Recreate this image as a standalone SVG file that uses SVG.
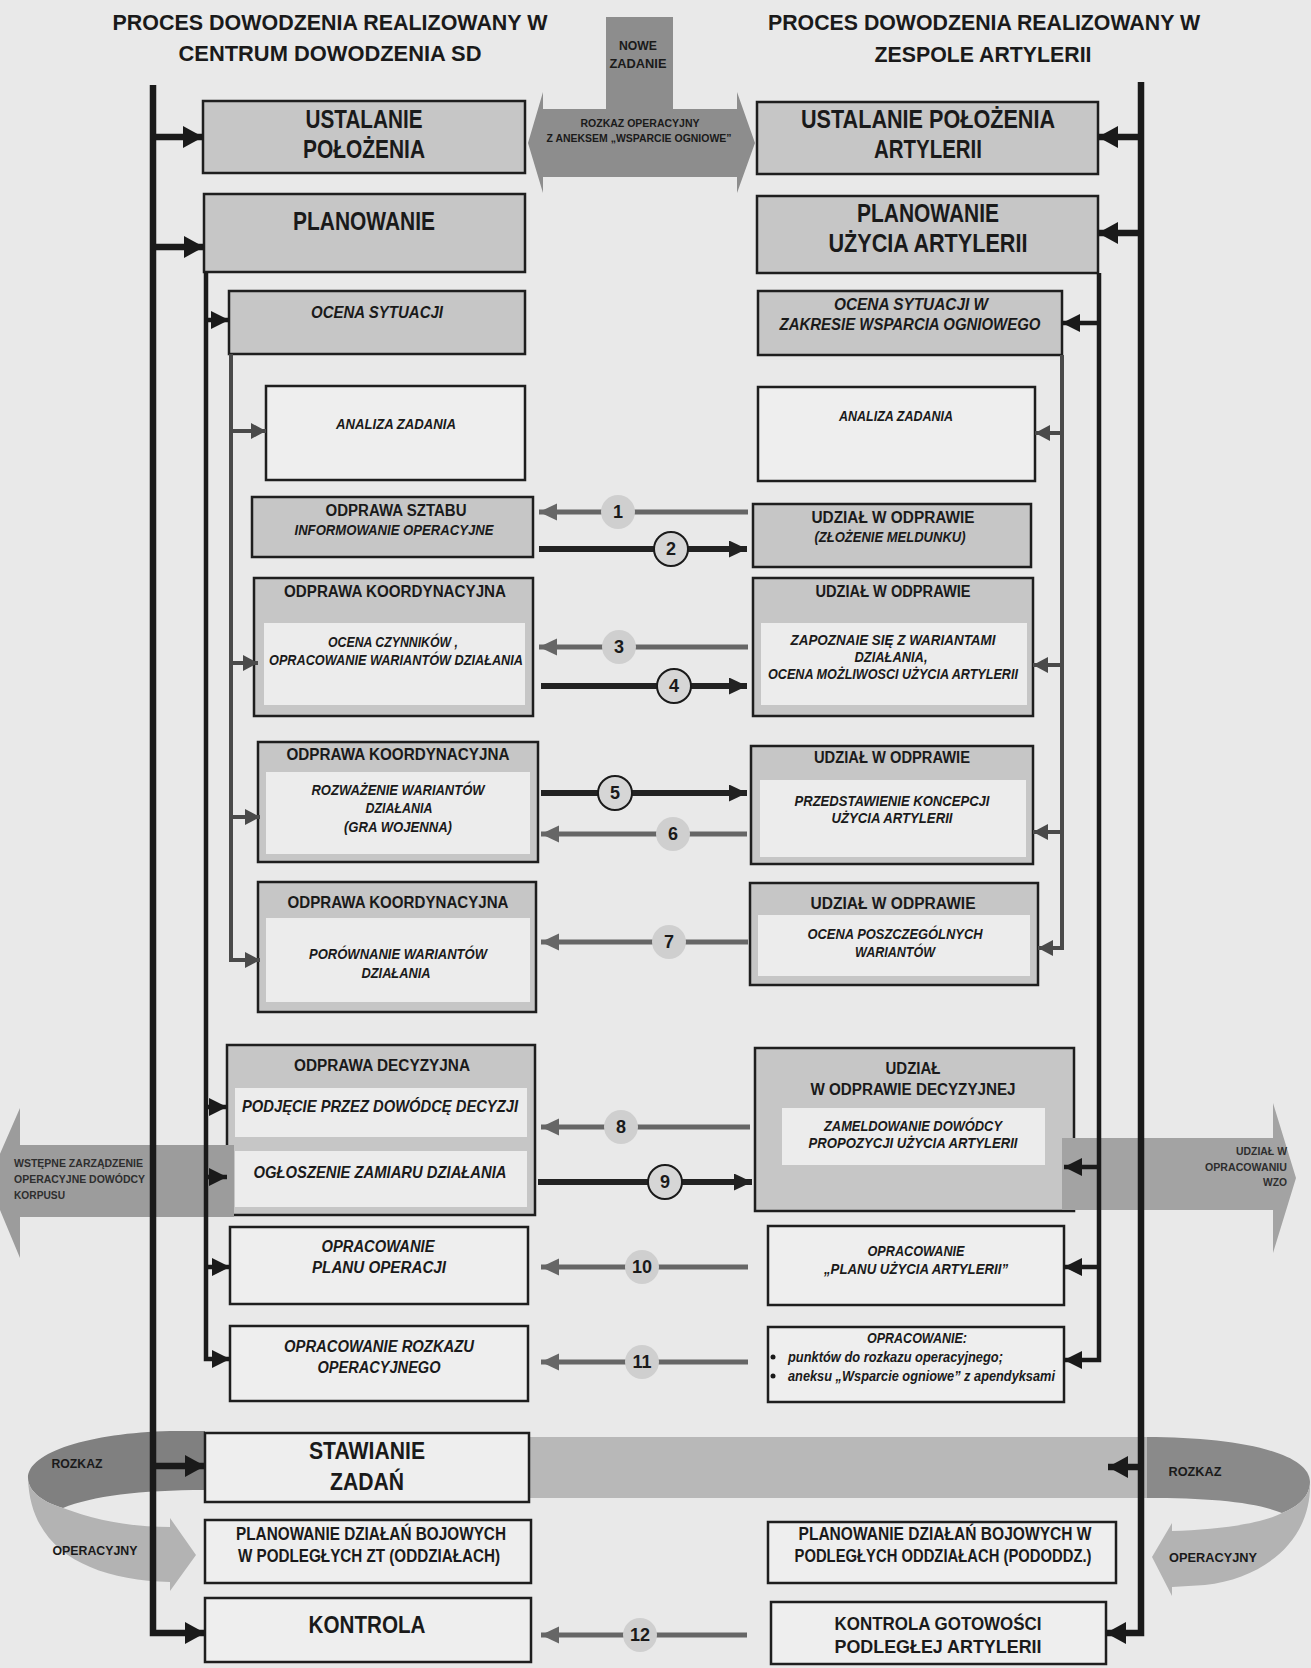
<svg xmlns="http://www.w3.org/2000/svg" width="1311" height="1668" viewBox="0 0 1311 1668">
<defs>
<style>
.t{font-family:"Liberation Sans",Arial,sans-serif;font-weight:bold;fill:#1a1a1a;text-anchor:middle}
.i{font-style:italic}
.s{font-family:"Liberation Sans",Arial,sans-serif;font-weight:bold;fill:#2e2e2e}
.box{stroke:#1e1e1e;stroke-width:2.5}
.g{fill:#c6c6c6}
.w{fill:#eeeeee}
.in{fill:#ececec}
.ln{fill:none;stroke:#1a1a1a;stroke-width:6.5}
.ln2{fill:none;stroke:#1a1a1a;stroke-width:4.5}
.ln3{fill:none;stroke:#4a4a4a;stroke-width:4}
.nl{fill:none;stroke:#666;stroke-width:5}
.nr{fill:none;stroke:#222;stroke-width:6}
.cg{fill:#cfcfcf}
.cb{fill:#d6d6d6;stroke:#1a1a1a;stroke-width:2}
.num{font-family:"Liberation Sans",Arial,sans-serif;font-weight:bold;font-size:18px;fill:#1a1a1a;text-anchor:middle}
</style>
<marker id="mA" markerUnits="userSpaceOnUse" markerWidth="22" markerHeight="24" refX="20" refY="11" orient="auto"><path d="M0,0 L20,11 L0,22 Z" fill="#1a1a1a"/></marker>
<marker id="mB" markerUnits="userSpaceOnUse" markerWidth="20" markerHeight="20" refX="18" refY="9" orient="auto"><path d="M0,0 L18,9 L0,18 Z" fill="#1a1a1a"/></marker>
<marker id="mC" markerUnits="userSpaceOnUse" markerWidth="18" markerHeight="18" refX="15" refY="8" orient="auto"><path d="M0,0 L15,8 L0,16 Z" fill="#4a4a4a"/></marker>
<marker id="mD" markerUnits="userSpaceOnUse" markerWidth="20" markerHeight="20" refX="18" refY="8.5" orient="auto"><path d="M0,0 L18,8.5 L0,17 Z" fill="#666"/></marker>
<marker id="mE" markerUnits="userSpaceOnUse" markerWidth="20" markerHeight="20" refX="18" refY="8.5" orient="auto"><path d="M0,0 L18,8.5 L0,17 Z" fill="#222"/></marker>
</defs>
<rect x="0" y="0" width="1311" height="1668" fill="#e9e9e9"/>

<g id="titles">
<text class="t" x="330" y="30" font-size="22" textLength="435" lengthAdjust="spacingAndGlyphs">PROCES DOWODZENIA REALIZOWANY W</text>
<text class="t" x="330" y="61" font-size="22" textLength="303" lengthAdjust="spacingAndGlyphs">CENTRUM DOWODZENIA SD</text>
<text class="t" x="984" y="30" font-size="22" textLength="432" lengthAdjust="spacingAndGlyphs">PROCES DOWODZENIA REALIZOWANY W</text>
<text class="t" x="983" y="62" font-size="22" textLength="217" lengthAdjust="spacingAndGlyphs">ZESPOLE ARTYLERII</text>
</g>

<g id="bands">
<path d="M606,17 H673 V109 H737 V92 L755,143 L737,193 V177 H543 V193 L528,143 L543,92 V109 H606 Z" fill="#8d8d8d"/>
<text class="t" x="638" y="50" font-size="12" fill="#2a2a2a" textLength="38" lengthAdjust="spacingAndGlyphs">NOWE</text>
<text class="t" x="638" y="68" font-size="12" fill="#2a2a2a" textLength="57" lengthAdjust="spacingAndGlyphs">ZADANIE</text>
<text class="t" x="640" y="127" font-size="10" fill="#2a2a2a" textLength="119" lengthAdjust="spacingAndGlyphs">ROZKAZ OPERACYJNY</text>
<text class="t" x="639" y="142" font-size="10" fill="#2a2a2a" textLength="185" lengthAdjust="spacingAndGlyphs">Z ANEKSEM „WSPARCIE OGNIOWE”</text>
<rect x="529" y="1437" width="618" height="61" fill="#b8b8b8"/>
<path d="M1147,1437 C1235,1437 1310,1452 1310,1482 C1310,1496 1298,1507 1282,1513 C1255,1502 1210,1498 1147,1498 Z" fill="#8a8a8a"/>
<path d="M1282,1513 C1298,1507 1310,1496 1310,1482 C1312,1540 1265,1578 1205,1585 L1172,1587 V1596 L1152,1557 L1172,1523 V1531 C1215,1530 1262,1524 1282,1513 Z" fill="#b3b3b3"/>
<path d="M205,1431 V1490 C140,1490 92,1496 63,1508 C45,1503 28,1492 28,1478 C28,1452 90,1433 170,1431 Z" fill="#808080"/>
<path d="M28,1478 C28,1492 45,1503 63,1508 C95,1520 130,1527 170,1527 V1518 L196,1555 L170,1591 V1582 C90,1580 30,1550 28,1478 Z" fill="#b3b3b3"/>
<text class="t" x="77" y="1468" font-size="13" textLength="51" lengthAdjust="spacingAndGlyphs">ROZKAZ</text>
<text class="t" x="95" y="1555" font-size="13" textLength="85" lengthAdjust="spacingAndGlyphs">OPERACYJNY</text>
<text class="t" x="1195" y="1476" font-size="13" textLength="53" lengthAdjust="spacingAndGlyphs">ROZKAZ</text>
<text class="t" x="1213" y="1562" font-size="13" textLength="88" lengthAdjust="spacingAndGlyphs">OPERACYJNY</text>
</g>

<g id="n-ustalanie-l"><rect class="box g" x="203" y="101" width="322" height="72"/>
<text class="t" x="364" y="128" font-size="25" textLength="117" lengthAdjust="spacingAndGlyphs">USTALANIE</text>
<text class="t" x="364" y="158" font-size="25" textLength="122" lengthAdjust="spacingAndGlyphs">POŁOŻENIA</text></g>
<g id="n-ustalanie-r"><rect class="box g" x="757" y="102" width="341" height="72"/>
<text class="t" x="928" y="128" font-size="25" textLength="254" lengthAdjust="spacingAndGlyphs">USTALANIE POŁOŻENIA</text>
<text class="t" x="928" y="158" font-size="25" textLength="108" lengthAdjust="spacingAndGlyphs">ARTYLERII</text></g>
<g id="n-planowanie-l"><rect class="box g" x="204" y="194" width="321" height="78"/>
<text class="t" x="364" y="230" font-size="25" textLength="142" lengthAdjust="spacingAndGlyphs">PLANOWANIE</text></g>
<g id="n-planowanie-r"><rect class="box g" x="757" y="196" width="341" height="77"/>
<text class="t" x="928" y="222" font-size="25" textLength="142" lengthAdjust="spacingAndGlyphs">PLANOWANIE</text>
<text class="t" x="928" y="252" font-size="25" textLength="199" lengthAdjust="spacingAndGlyphs">UŻYCIA ARTYLERII</text></g>

<g id="n-ocena-l"><rect class="box g" x="229" y="291" width="296" height="63"/>
<text class="t i" x="377" y="318" font-size="16" textLength="132" lengthAdjust="spacingAndGlyphs">OCENA SYTUACJI</text></g>
<g id="n-ocena-r"><rect class="box g" x="758" y="291" width="304" height="64"/>
<text class="t i" x="911" y="310" font-size="16" textLength="154" lengthAdjust="spacingAndGlyphs">OCENA SYTUACJI W</text>
<text class="t i" x="910" y="330" font-size="16" textLength="261" lengthAdjust="spacingAndGlyphs">ZAKRESIE WSPARCIA OGNIOWEGO</text></g>

<g id="n-analiza-l"><rect class="box w" x="266" y="386" width="259" height="94"/>
<text class="t i" x="396" y="429" font-size="14" textLength="120" lengthAdjust="spacingAndGlyphs">ANALIZA ZADANIA</text></g>
<g id="n-analiza-r"><rect class="box w" x="758" y="387" width="277" height="94"/>
<text class="t i" x="896" y="421" font-size="14" textLength="114" lengthAdjust="spacingAndGlyphs">ANALIZA ZADANIA</text></g>

<g id="n-odprawa-sztabu"><rect class="box g" x="252" y="497" width="281" height="60"/>
<text class="t" x="396" y="516" font-size="16" textLength="141" lengthAdjust="spacingAndGlyphs">ODPRAWA SZTABU</text>
<text class="t i" x="394" y="535" font-size="14" textLength="199" lengthAdjust="spacingAndGlyphs">INFORMOWANIE OPERACYJNE</text></g>
<g id="n-udzial-1"><rect class="box g" x="753" y="504" width="278" height="63"/>
<text class="t" x="893" y="523" font-size="16" textLength="163" lengthAdjust="spacingAndGlyphs">UDZIAŁ W ODPRAWIE</text>
<text class="t i" x="890" y="542" font-size="14" textLength="151" lengthAdjust="spacingAndGlyphs">(ZŁOŻENIE MELDUNKU)</text></g>

<g id="n-koord-1"><rect class="box g" x="254" y="578" width="279" height="138"/>
<rect class="in" x="264" y="623" width="261" height="82"/>
<text class="t" x="395" y="597" font-size="16.5" textLength="222" lengthAdjust="spacingAndGlyphs">ODPRAWA KOORDYNACYJNA</text>
<text class="t i" x="393" y="647" font-size="14" textLength="130" lengthAdjust="spacingAndGlyphs">OCENA CZYNNIKÓW ,</text>
<text class="t i" x="396" y="665" font-size="14" textLength="254" lengthAdjust="spacingAndGlyphs">OPRACOWANIE WARIANTÓW DZIAŁANIA</text></g>
<g id="n-udzial-2"><rect class="box g" x="753" y="578" width="280" height="138"/>
<rect class="in" x="761" y="623" width="266" height="82"/>
<text class="t" x="893" y="597" font-size="16" textLength="155" lengthAdjust="spacingAndGlyphs">UDZIAŁ W ODPRAWIE</text>
<text class="t i" x="893" y="645" font-size="14" textLength="205" lengthAdjust="spacingAndGlyphs">ZAPOZNAIE SIĘ Z WARIANTAMI</text>
<text class="t i" x="891" y="662" font-size="14" textLength="73" lengthAdjust="spacingAndGlyphs">DZIAŁANIA,</text>
<text class="t i" x="893" y="679" font-size="14" textLength="250" lengthAdjust="spacingAndGlyphs">OCENA MOŻLIWOSCI UŻYCIA ARTYLERII</text></g>

<g id="n-koord-2"><rect class="box g" x="258" y="742" width="280" height="120"/>
<rect class="in" x="266" y="772" width="264" height="82"/>
<text class="t" x="398" y="760" font-size="16.5" textLength="223" lengthAdjust="spacingAndGlyphs">ODPRAWA KOORDYNACYJNA</text>
<text class="t i" x="398" y="795" font-size="14" textLength="173" lengthAdjust="spacingAndGlyphs">ROZWAŻENIE WARIANTÓW</text>
<text class="t i" x="399" y="813" font-size="14" textLength="67" lengthAdjust="spacingAndGlyphs">DZIAŁANIA</text>
<text class="t i" x="398" y="832" font-size="14" textLength="108" lengthAdjust="spacingAndGlyphs">(GRA WOJENNA)</text></g>
<g id="n-udzial-3"><rect class="box g" x="751" y="746" width="282" height="118"/>
<rect class="in" x="760" y="780" width="266" height="77"/>
<text class="t" x="892" y="763" font-size="16" textLength="156" lengthAdjust="spacingAndGlyphs">UDZIAŁ W ODPRAWIE</text>
<text class="t i" x="892" y="806" font-size="14" textLength="195" lengthAdjust="spacingAndGlyphs">PRZEDSTAWIENIE KONCEPCJI</text>
<text class="t i" x="892" y="823" font-size="14" textLength="121" lengthAdjust="spacingAndGlyphs">UŻYCIA ARTYLERII</text></g>

<g id="n-koord-3"><rect class="box g" x="258" y="882" width="278" height="130"/>
<rect class="in" x="266" y="918" width="264" height="84"/>
<text class="t" x="398" y="908" font-size="16.5" textLength="221" lengthAdjust="spacingAndGlyphs">ODPRAWA KOORDYNACYJNA</text>
<text class="t i" x="398" y="959" font-size="14" textLength="178" lengthAdjust="spacingAndGlyphs">PORÓWNANIE WARIANTÓW</text>
<text class="t i" x="396" y="978" font-size="14" textLength="69" lengthAdjust="spacingAndGlyphs">DZIAŁANIA</text></g>
<g id="n-udzial-4"><rect class="box g" x="750" y="883" width="288" height="102"/>
<rect class="in" x="758" y="915" width="272" height="61"/>
<text class="t" x="893" y="909" font-size="16" textLength="165" lengthAdjust="spacingAndGlyphs">UDZIAŁ W ODPRAWIE</text>
<text class="t i" x="895" y="939" font-size="14" textLength="175" lengthAdjust="spacingAndGlyphs">OCENA POSZCZEGÓLNYCH</text>
<text class="t i" x="895" y="957" font-size="14" textLength="80" lengthAdjust="spacingAndGlyphs">WARIANTÓW</text></g>

<g id="n-decyzyjna"><rect class="box g" x="227" y="1045" width="308" height="170"/>
<rect class="in" x="235" y="1088" width="292" height="49"/>
<rect class="in" x="235" y="1151" width="292" height="56"/>
<text class="t" x="382" y="1071" font-size="16" textLength="176" lengthAdjust="spacingAndGlyphs">ODPRAWA DECYZYJNA</text>
<text class="t i" x="380" y="1112" font-size="16.5" textLength="276" lengthAdjust="spacingAndGlyphs">PODJĘCIE PRZEZ DOWÓDCĘ DECYZJI</text>
<text class="t i" x="380" y="1178" font-size="16.5" textLength="253" lengthAdjust="spacingAndGlyphs">OGŁOSZENIE ZAMIARU DZIAŁANIA</text></g>
<g id="n-udzial-decyzyjna"><rect class="box g" x="755" y="1048" width="319" height="163"/>
<rect class="in" x="782" y="1108" width="263" height="57"/>
<text class="t" x="913" y="1074" font-size="16" textLength="55" lengthAdjust="spacingAndGlyphs">UDZIAŁ</text>
<text class="t" x="913" y="1095" font-size="16" textLength="205" lengthAdjust="spacingAndGlyphs">W ODPRAWIE DECYZYJNEJ</text>
<text class="t i" x="913" y="1131" font-size="14" textLength="178" lengthAdjust="spacingAndGlyphs">ZAMELDOWANIE DOWÓDCY</text>
<text class="t i" x="913" y="1148" font-size="14" textLength="209" lengthAdjust="spacingAndGlyphs">PROPOZYCJI UŻYCIA ARTYLERII</text></g>

<g id="n-plan-operacji"><rect class="box w" x="230" y="1227" width="298" height="77"/>
<text class="t i" x="378" y="1252" font-size="16" textLength="113" lengthAdjust="spacingAndGlyphs">OPRACOWANIE</text>
<text class="t i" x="379" y="1273" font-size="16" textLength="134" lengthAdjust="spacingAndGlyphs">PLANU OPERACJI</text></g>
<g id="n-plan-artylerii"><rect class="box w" x="768" y="1226" width="296" height="79"/>
<text class="t i" x="916" y="1256" font-size="14" textLength="97" lengthAdjust="spacingAndGlyphs">OPRACOWANIE</text>
<text class="t i" x="916" y="1274" font-size="14" textLength="184" lengthAdjust="spacingAndGlyphs">„PLANU UŻYCIA ARTYLERII”</text></g>

<g id="n-rozkaz"><rect class="box w" x="230" y="1326" width="298" height="75"/>
<text class="t i" x="379" y="1352" font-size="16" textLength="190" lengthAdjust="spacingAndGlyphs">OPRACOWANIE ROZKAZU</text>
<text class="t i" x="379" y="1373" font-size="16" textLength="123" lengthAdjust="spacingAndGlyphs">OPERACYJNEGO</text></g>
<g id="n-opracowanie-punktow"><rect class="box w" x="768" y="1327" width="296" height="75"/>
<text class="t i" x="917" y="1343" font-size="14" textLength="100" lengthAdjust="spacingAndGlyphs">OPRACOWANIE:</text>
<circle cx="773" cy="1357" r="2.5" fill="#1a1a1a"/>
<circle cx="773" cy="1376" r="2.5" fill="#1a1a1a"/>
<text class="t i" x="788" y="1362" font-size="14" text-anchor="start" style="text-anchor:start" textLength="215" lengthAdjust="spacingAndGlyphs">punktów do rozkazu operacyjnego;</text>
<text class="t i" x="788" y="1381" font-size="14" style="text-anchor:start" textLength="267" lengthAdjust="spacingAndGlyphs">aneksu „Wsparcie ogniowe” z apendyksami</text></g>

<g id="n-stawianie"><rect class="box w" x="205" y="1433" width="324" height="69"/>
<text class="t" x="367" y="1459" font-size="24" textLength="116" lengthAdjust="spacingAndGlyphs">STAWIANIE</text>
<text class="t" x="367" y="1490" font-size="24" textLength="74" lengthAdjust="spacingAndGlyphs">ZADAŃ</text></g>
<g id="n-planowanie-dzialan-l"><rect class="box w" x="205" y="1520" width="326" height="63"/>
<text class="t" x="371" y="1540" font-size="18" textLength="270" lengthAdjust="spacingAndGlyphs">PLANOWANIE DZIAŁAŃ BOJOWYCH</text>
<text class="t" x="369" y="1562" font-size="18" textLength="262" lengthAdjust="spacingAndGlyphs">W PODLEGŁYCH ZT (ODDZIAŁACH)</text></g>
<g id="n-planowanie-dzialan-r"><rect class="box w" x="768" y="1522" width="348" height="61"/>
<text class="t" x="945" y="1540" font-size="18" textLength="293" lengthAdjust="spacingAndGlyphs">PLANOWANIE DZIAŁAŃ BOJOWYCH W</text>
<text class="t" x="943" y="1562" font-size="18" textLength="297" lengthAdjust="spacingAndGlyphs">PODLEGŁYCH ODDZIAŁACH (PODODDZ.)</text></g>
<g id="n-kontrola-l"><rect class="box w" x="205" y="1598" width="326" height="64"/>
<text class="t" x="367" y="1633" font-size="24" textLength="117" lengthAdjust="spacingAndGlyphs">KONTROLA</text></g>
<g id="n-kontrola-r"><rect class="box w" x="771" y="1602" width="335" height="62"/>
<text class="t" x="938" y="1630" font-size="19" textLength="207" lengthAdjust="spacingAndGlyphs">KONTROLA GOTOWOŚCI</text>
<text class="t" x="938" y="1653" font-size="19" textLength="207" lengthAdjust="spacingAndGlyphs">PODLEGŁEJ ARTYLERII</text></g>

<g id="side-bands">
<path d="M-12,1181 L20,1108 V1145 H234 V1217 H20 V1258 Z" fill="#9c9c9c"/>
<path d="M1062,1138 H1273 V1103 L1296,1178 L1273,1253 V1210 H1062 Z" fill="#a3a3a3"/>
<text class="s" x="14" y="1167" font-size="10.5" textLength="129" lengthAdjust="spacingAndGlyphs">WSTĘPNE ZARZĄDZENIE</text>
<text class="s" x="14" y="1183" font-size="10.5" textLength="131" lengthAdjust="spacingAndGlyphs">OPERACYJNE DOWÓDCY</text>
<text class="s" x="14" y="1199" font-size="10.5" textLength="51" lengthAdjust="spacingAndGlyphs">KORPUSU</text>
<text class="s" x="1287" y="1155" font-size="10.5" text-anchor="end" textLength="51" lengthAdjust="spacingAndGlyphs">UDZIAŁ W</text>
<text class="s" x="1287" y="1171" font-size="10.5" text-anchor="end" textLength="82" lengthAdjust="spacingAndGlyphs">OPRACOWANIU</text>
<text class="s" x="1287" y="1186" font-size="10.5" text-anchor="end" textLength="24" lengthAdjust="spacingAndGlyphs">WZO</text>
</g>

<g id="connectors">
<path class="ln" d="M153,85 V1633 H205" marker-end="url(#mA)"/>
<path class="ln" d="M153,137 H203" marker-end="url(#mA)"/>
<path class="ln" d="M153,247 H204" marker-end="url(#mA)"/>
<path class="ln" d="M153,1466 H205" marker-end="url(#mA)"/>
<path class="ln" d="M1141,82 V1633 H1106" marker-end="url(#mA)"/>
<path class="ln" d="M1141,137 H1098" marker-end="url(#mA)"/>
<path class="ln" d="M1141,233 H1098" marker-end="url(#mA)"/>
<path class="ln" d="M1141,1467 H1108" marker-end="url(#mA)"/>

<path class="ln2" d="M206,272 V1359 H230" marker-end="url(#mB)"/>
<path class="ln2" d="M206,320 H229" marker-end="url(#mB)"/>
<path class="ln2" d="M206,1107 H227" marker-end="url(#mB)"/>
<path class="ln2" d="M206,1177 H227" marker-end="url(#mB)"/>
<path class="ln2" d="M206,1267 H230" marker-end="url(#mB)"/>
<path class="ln2" d="M1099,273 V1360 H1064" marker-end="url(#mB)"/>
<path class="ln2" d="M1099,323 H1062" marker-end="url(#mB)"/>
<path class="ln2" d="M1099,1167 H1064" marker-end="url(#mB)"/>
<path class="ln2" d="M1099,1267 H1064" marker-end="url(#mB)"/>

<path class="ln3" d="M231,354 V960 H260" marker-end="url(#mC)"/>
<path class="ln3" d="M231,431 H266" marker-end="url(#mC)"/>
<path class="ln3" d="M231,663 H258" marker-end="url(#mC)"/>
<path class="ln3" d="M231,817 H260" marker-end="url(#mC)"/>
<path class="ln3" d="M1062,355 V948 H1038" marker-end="url(#mC)"/>
<path class="ln3" d="M1062,433 H1035" marker-end="url(#mC)"/>
<path class="ln3" d="M1062,665 H1033" marker-end="url(#mC)"/>
<path class="ln3" d="M1062,832 H1033" marker-end="url(#mC)"/>

<path class="nl" d="M748,512 H539" marker-end="url(#mD)"/>
<path class="nr" d="M539,549 H747" marker-end="url(#mE)"/>
<path class="nl" d="M748,647 H539" marker-end="url(#mD)"/>
<path class="nr" d="M541,686 H747" marker-end="url(#mE)"/>
<path class="nr" d="M541,793 H747" marker-end="url(#mE)"/>
<path class="nl" d="M747,834 H541" marker-end="url(#mD)"/>
<path class="nl" d="M748,942 H541" marker-end="url(#mD)"/>
<path class="nl" d="M750,1127 H541" marker-end="url(#mD)"/>
<path class="nr" d="M538,1182 H752" marker-end="url(#mE)"/>
<path class="nl" d="M748,1267 H541" marker-end="url(#mD)"/>
<path class="nl" d="M748,1362 H541" marker-end="url(#mD)"/>
<path class="nl" d="M747,1635 H541" marker-end="url(#mD)"/>

<circle class="cg" cx="618" cy="512" r="17"/><text class="num" x="618" y="518">1</text>
<circle class="cb" cx="671" cy="549" r="17"/><text class="num" x="671" y="555">2</text>
<circle class="cg" cx="619" cy="647" r="17"/><text class="num" x="619" y="653">3</text>
<circle class="cb" cx="674" cy="686" r="17"/><text class="num" x="674" y="692">4</text>
<circle class="cb" cx="615" cy="793" r="17"/><text class="num" x="615" y="799">5</text>
<circle class="cg" cx="673" cy="834" r="17"/><text class="num" x="673" y="840">6</text>
<circle class="cg" cx="669" cy="942" r="17"/><text class="num" x="669" y="948">7</text>
<circle class="cg" cx="621" cy="1127" r="17"/><text class="num" x="621" y="1133">8</text>
<circle class="cb" cx="665" cy="1182" r="17"/><text class="num" x="665" y="1188">9</text>
<circle class="cg" cx="642" cy="1267" r="17"/><text class="num" x="642" y="1273">10</text>
<circle class="cg" cx="642" cy="1362" r="17"/><text class="num" x="642" y="1368">11</text>
<circle class="cg" cx="640" cy="1635" r="17"/><text class="num" x="640" y="1641">12</text>
</g>
</svg>
